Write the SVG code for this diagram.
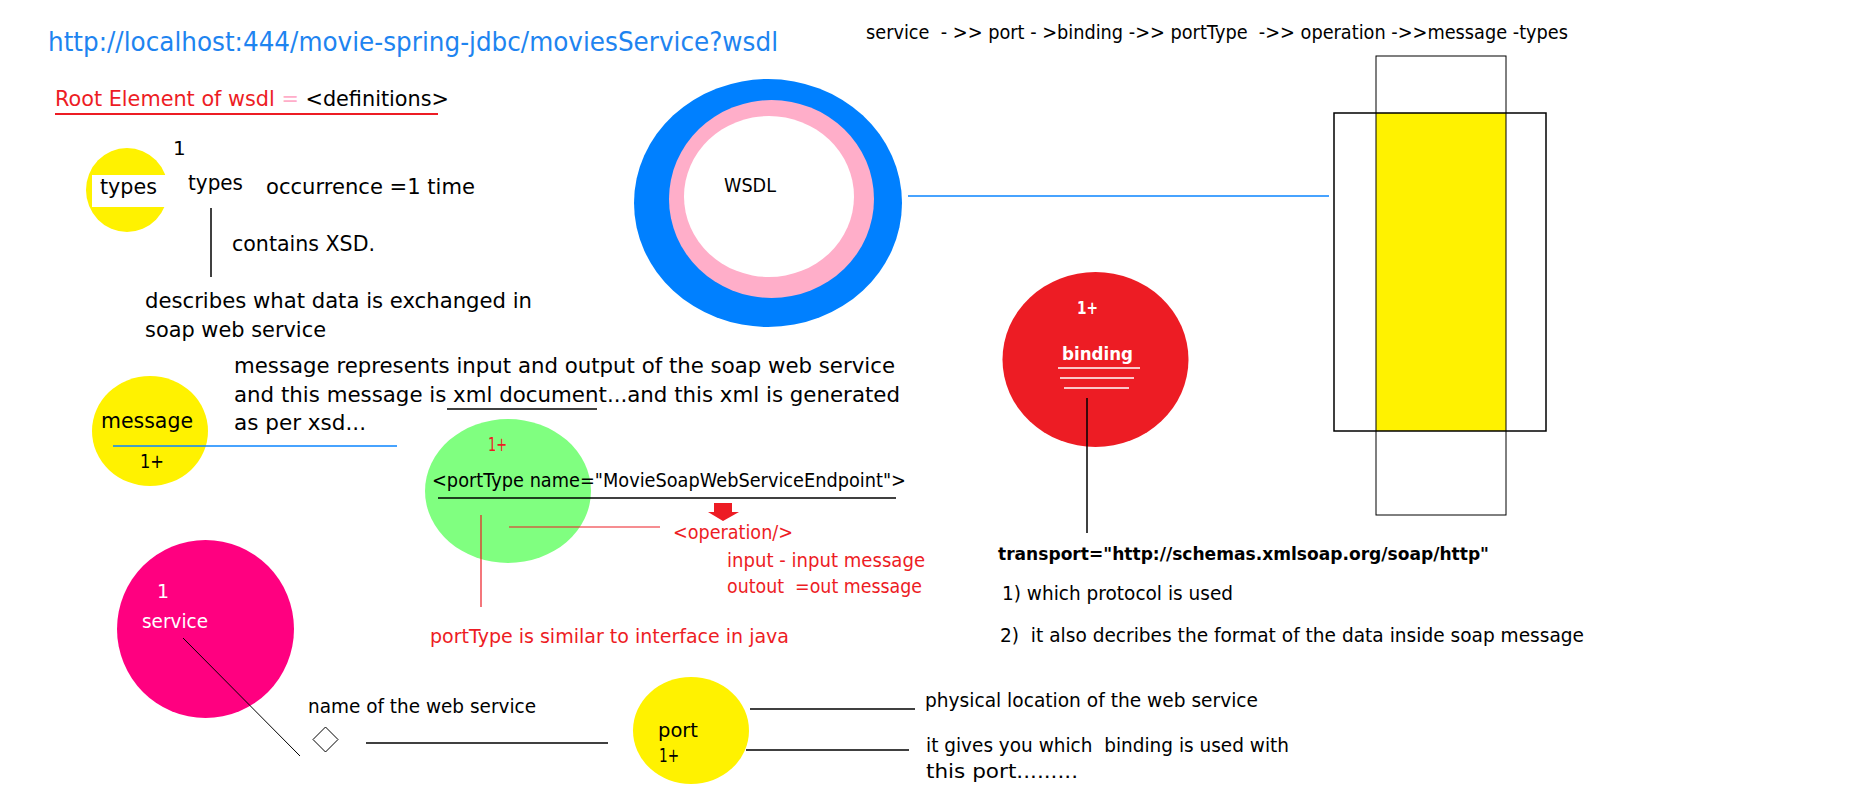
<svg xmlns="http://www.w3.org/2000/svg" width="1872" height="802" viewBox="0 0 1872 802">
<style>
text{font-family:"DejaVu Sans","Liberation Sans",sans-serif;fill:#000;white-space:pre}
.red{fill:#ed1c24}
.wh{fill:#fff}
.ln{stroke:#000;stroke-width:1.5;fill:none}
.thin{stroke:#000;stroke-width:1;fill:none}
.rl{stroke:#ed1c24;stroke-width:1.2;fill:none}
.bl{stroke:#0a84ff;stroke-width:1.5;fill:none}
.wl{stroke:#fff;stroke-width:1.5;fill:none}
</style>
<rect width="1872" height="802" fill="#fff"/>

<g id="header">
<text x="48" y="51" font-size="27" textLength="730" lengthAdjust="spacingAndGlyphs" style="fill:#1e84f0">http://localhost:444/movie-spring-jdbc/moviesService?wsdl</text>
<text x="866" y="39" font-size="20" textLength="702" lengthAdjust="spacingAndGlyphs" xml:space="preserve">service  - &gt;&gt; port - &gt;binding -&gt;&gt; portType  -&gt;&gt; operation -&gt;&gt;message -types</text>
<text x="55" y="106" font-size="21" textLength="394" lengthAdjust="spacingAndGlyphs" xml:space="preserve"><tspan class="red">Root Element of wsdl </tspan><tspan style="fill:#ffaec9">=</tspan><tspan> &lt;definitions&gt;</tspan></text>
</g>

<g id="types">
<ellipse cx="127" cy="190" rx="41" ry="42" fill="#fff200"/>
<rect x="92" y="175" width="76" height="32" fill="#fff"/>
<text x="100" y="194" font-size="21" textLength="57" lengthAdjust="spacingAndGlyphs">types</text>
<text x="173" y="155" font-size="20">1</text>
<text x="188" y="190" font-size="21" textLength="55" lengthAdjust="spacingAndGlyphs">types</text>
<text x="266" y="194" font-size="21" textLength="209" lengthAdjust="spacingAndGlyphs">occurrence =1 time</text>
<text x="232" y="251" font-size="21" textLength="143" lengthAdjust="spacingAndGlyphs">contains XSD.</text>
<text x="145" y="308" font-size="21" textLength="387" lengthAdjust="spacingAndGlyphs">describes what data is exchanged in</text>
<text x="145" y="337" font-size="21" textLength="181" lengthAdjust="spacingAndGlyphs">soap web service</text>
</g>

<g id="message">
<ellipse cx="150" cy="431" rx="58" ry="55" fill="#fff200"/>
<text x="101" y="428" font-size="22" textLength="92" lengthAdjust="spacingAndGlyphs">message</text>
<text x="140" y="468" font-size="20" textLength="24" lengthAdjust="spacingAndGlyphs">1+</text>
<text x="234" y="373" font-size="21" textLength="661" lengthAdjust="spacingAndGlyphs">message represents input and output of the soap web service</text>
<text x="234" y="402" font-size="21" textLength="666" lengthAdjust="spacingAndGlyphs">and this message is xml document...and this xml is generated</text>
<text x="234" y="430" font-size="21" textLength="132" lengthAdjust="spacingAndGlyphs">as per xsd...</text>
</g>

<g id="portType">
<ellipse cx="508" cy="491" rx="83" ry="72" fill="#80ff80"/>
<text x="488" y="451" font-size="19" class="red" textLength="19" lengthAdjust="spacingAndGlyphs">1+</text>
<text x="432" y="487" font-size="20" textLength="474" lengthAdjust="spacingAndGlyphs">&lt;portType name="MovieSoapWebServiceEndpoint"&gt;</text>
<text x="673" y="539" font-size="19" class="red" textLength="120" lengthAdjust="spacingAndGlyphs">&lt;operation/&gt;</text>
<text x="727" y="567" font-size="19" class="red" textLength="198" lengthAdjust="spacingAndGlyphs">input - input message</text>
<text x="727" y="593" font-size="19" class="red" textLength="195" lengthAdjust="spacingAndGlyphs" xml:space="preserve">outout  =out message</text>
<text x="430" y="643" font-size="19" class="red" textLength="359" lengthAdjust="spacingAndGlyphs">portType is similar to interface in java</text>
</g>

<g id="service">
<ellipse cx="205.5" cy="629" rx="88.5" ry="89" fill="#ff0080"/>
<text x="157" y="598" font-size="19" class="wh">1</text>
<text x="142" y="628" font-size="19" class="wh" textLength="66" lengthAdjust="spacingAndGlyphs">service</text>
<text x="308" y="713" font-size="19" textLength="228" lengthAdjust="spacingAndGlyphs">name of the web service</text>
</g>

<g id="port">
<ellipse cx="691" cy="730.5" rx="58" ry="53.5" fill="#fff200"/>
<text x="658" y="737" font-size="20" textLength="40" lengthAdjust="spacingAndGlyphs">port</text>
<text x="659" y="762" font-size="20" textLength="20" lengthAdjust="spacingAndGlyphs">1+</text>
<text x="925" y="707" font-size="19" textLength="333" lengthAdjust="spacingAndGlyphs">physical location of the web service</text>
<text x="926" y="752" font-size="19" textLength="363" lengthAdjust="spacingAndGlyphs" xml:space="preserve">it gives you which  binding is used with</text>
<text x="926" y="778" font-size="19" textLength="152" lengthAdjust="spacingAndGlyphs">this port.........</text>
</g>

<g id="wsdl">
<ellipse cx="768" cy="203" rx="134" ry="124" fill="#0080ff"/>
<ellipse cx="771.5" cy="199" rx="102.5" ry="99" fill="#ffaec9"/>
<ellipse cx="769" cy="196.5" rx="85" ry="80.5" fill="#fff"/>
<text x="724" y="192" font-size="20" textLength="52" lengthAdjust="spacingAndGlyphs">WSDL</text>
</g>

<g id="binding">
<ellipse cx="1095.5" cy="359.5" rx="93" ry="87.5" fill="#ed1c24"/>
<text x="1077" y="314" font-size="17" class="wh" font-weight="bold" textLength="21" lengthAdjust="spacingAndGlyphs">1+</text>
<text x="1062" y="360" font-size="18" class="wh" font-weight="bold" textLength="71" lengthAdjust="spacingAndGlyphs">binding</text>
<line class="wl" x1="1058" y1="368" x2="1140" y2="368"/>
<line class="wl" x1="1060" y1="378" x2="1134" y2="378"/>
<line class="wl" x1="1064" y1="388" x2="1129" y2="388"/>
<text x="998" y="560" font-size="18" font-weight="bold" textLength="491" lengthAdjust="spacingAndGlyphs">transport="http://schemas.xmlsoap.org/soap/http"</text>
<text x="1002" y="600" font-size="19" textLength="231" lengthAdjust="spacingAndGlyphs">1) which protocol is used</text>
<text x="1000" y="642" font-size="19" textLength="584" lengthAdjust="spacingAndGlyphs" xml:space="preserve">2)  it also decribes the format of the data inside soap message</text>
</g>

<g id="structure">
<rect x="1376" y="113" width="130" height="318" fill="#fff200"/>
<rect x="1376" y="56" width="130" height="459" class="thin"/>
<rect x="1334" y="113" width="212" height="318" class="ln"/>
</g>

<g id="connectors">
<line x1="55" y1="114" x2="438" y2="114" stroke="#ed1c24" stroke-width="2"/>
<line class="ln" x1="211" y1="208" x2="211" y2="277"/>
<line class="ln" x1="447" y1="409" x2="597" y2="409"/>
<line class="bl" x1="113" y1="446" x2="397" y2="446"/>
<line class="ln" x1="438" y1="498" x2="896" y2="498"/>
<polygon points="714,503 732,503 732,512 739,512 723,521 708,512 714,512" fill="#ed1c24"/>
<line class="rl" x1="509" y1="527" x2="660" y2="527"/>
<line class="rl" x1="481" y1="515" x2="481" y2="607"/>
<line class="thin" x1="183" y1="638" x2="300" y2="756"/>
<polygon points="325.5,727 338,739.5 325.5,752 313,739.5" class="thin"/>
<line class="ln" x1="366" y1="743" x2="608" y2="743"/>
<line class="ln" x1="750" y1="709" x2="915" y2="709"/>
<line class="ln" x1="746" y1="750" x2="909" y2="750"/>
<line class="bl" x1="908" y1="196" x2="1329" y2="196"/>
<line class="ln" x1="1087" y1="398" x2="1087" y2="533"/>
</g>
</svg>
